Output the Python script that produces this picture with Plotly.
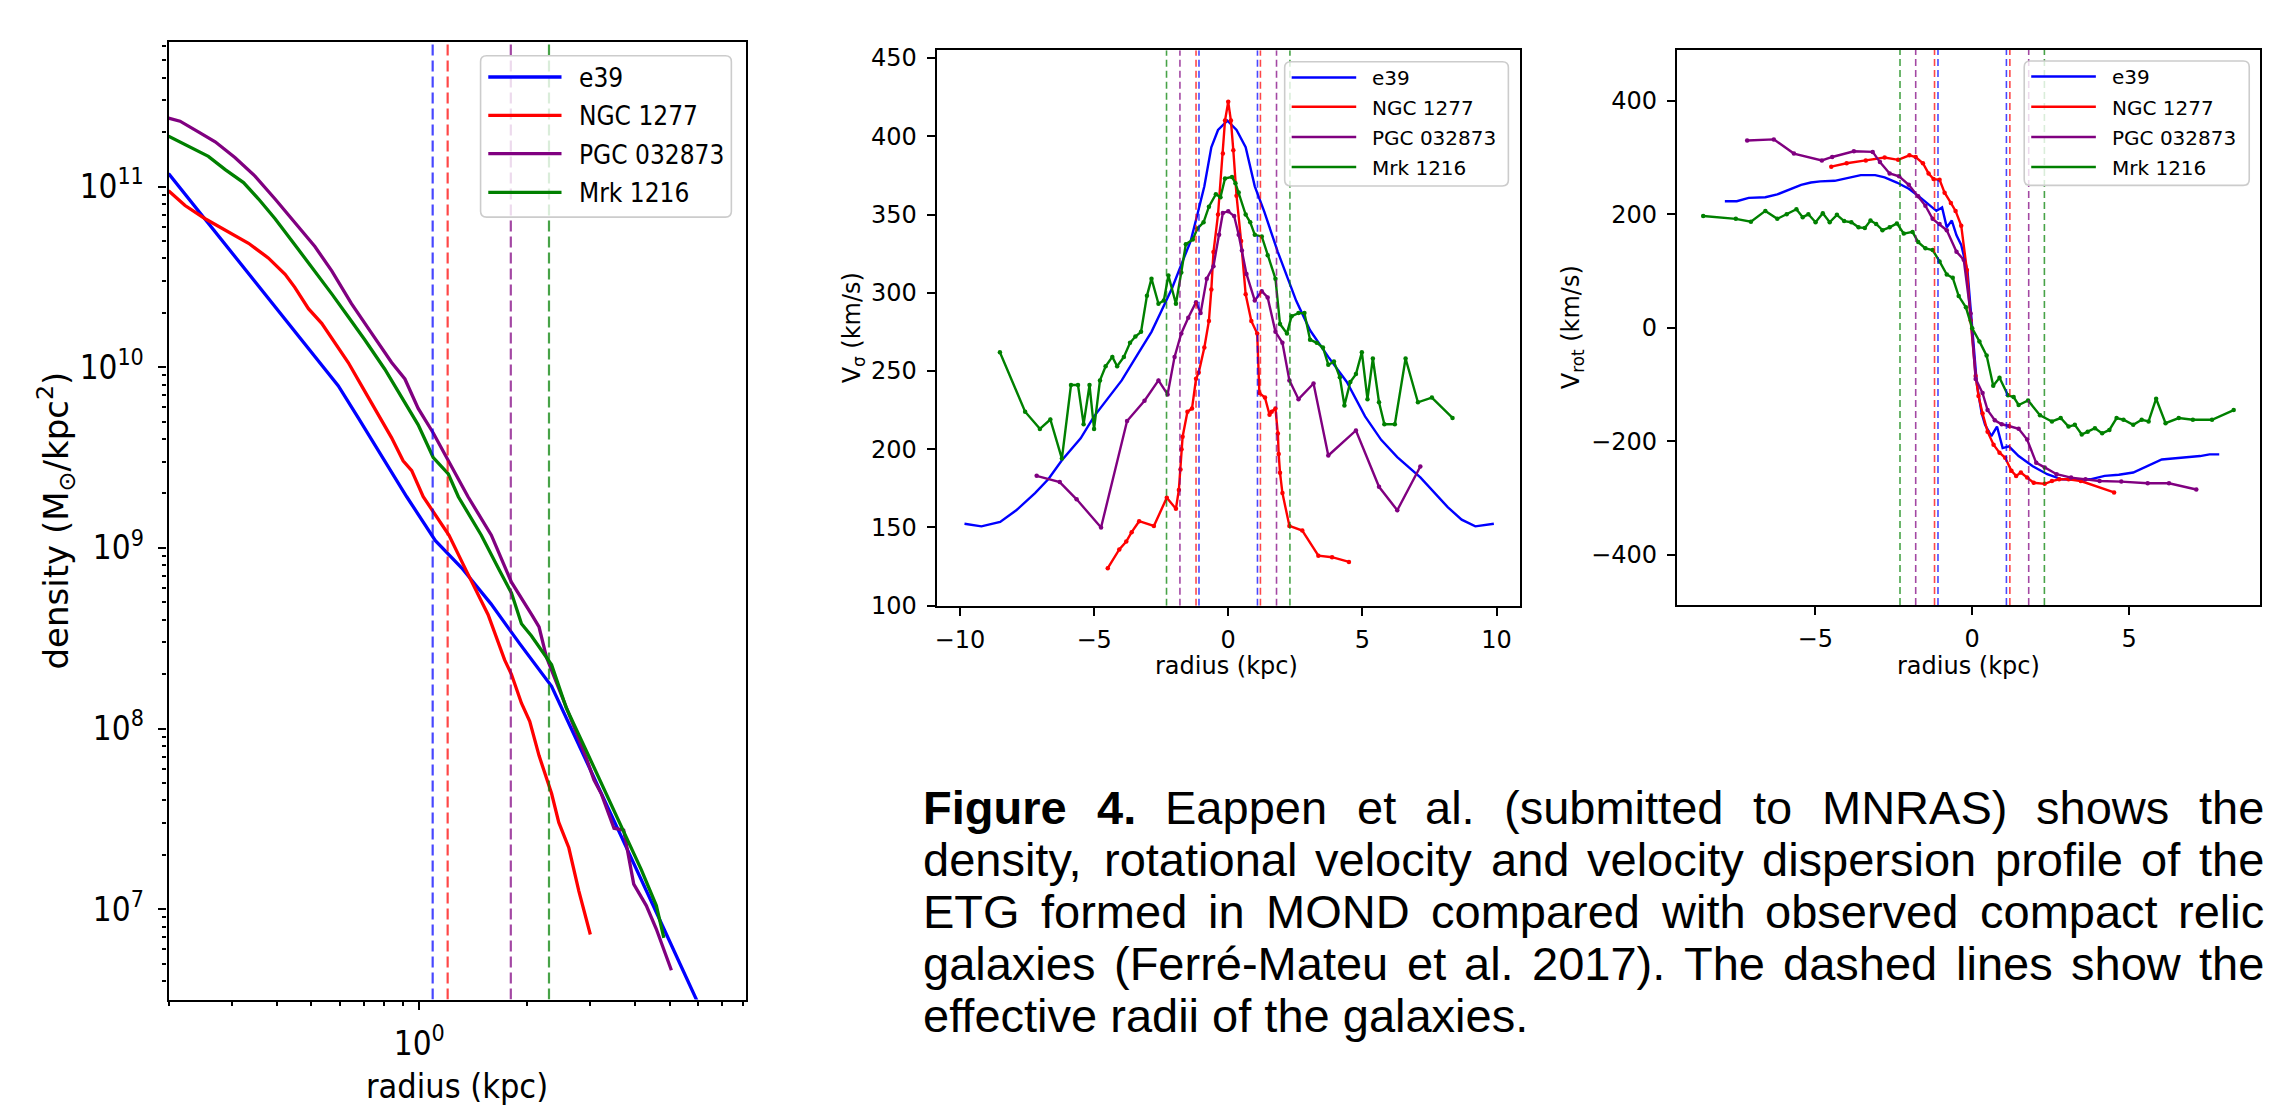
import numpy as np
import plotly.graph_objects as go

W, H = 2286, 1112

# ---------------- shared ----------------
names = ["e39", "NGC 1277", "PGC 032873", "Mrk 1216"]
line_colors = ["#0000ff", "#ff0000", "#800080", "#008000"]
dash_colors = ["rgba(0,0,255,0.72)", "rgba(255,0,0,0.72)", "rgba(128,0,128,0.72)", "rgba(0,128,0,0.72)"]
r_eff = [1.09, 1.2, 1.8, 2.3]   # effective radii (kpc)

# ---------------- panel 1 : surface density (log10 values) ----------------
dens_logr_e39 = [-0.699, -0.60, -0.50, -0.40, -0.30, -0.226, -0.17, -0.114, -0.035, 0.045, 0.118, 0.20, 0.28, 0.369, 0.45, 0.55, 0.65, 0.72, 0.775]
dens_logrho_e39 = [11.072, 10.827, 10.579, 10.331, 10.083, 9.898, 9.72, 9.54, 9.283, 9.04, 8.89, 8.69, 8.47, 8.234, 7.89, 7.46, 7.03, 6.73, 6.49]

dens_logr_ngc = [-0.699, -0.653, -0.597, -0.532, -0.476, -0.421, -0.374, -0.347, -0.309, -0.272, -0.235, -0.198, -0.161, -0.124, -0.077, -0.045, -0.021, 0.011, 0.05, 0.083, 0.132, 0.164, 0.192, 0.238, 0.257, 0.285, 0.308, 0.334, 0.369, 0.389, 0.417, 0.445, 0.477]
dens_logrho_ngc = [10.977, 10.895, 10.822, 10.750, 10.686, 10.605, 10.514, 10.442, 10.324, 10.243, 10.134, 10.026, 9.898, 9.772, 9.609, 9.482, 9.428, 9.283, 9.17, 9.07, 8.87, 8.74, 8.63, 8.38, 8.30, 8.14, 8.04, 7.85, 7.64, 7.48, 7.34, 7.10, 6.86]

dens_logr_pgc = [-0.699, -0.667, -0.616, -0.569, -0.514, -0.458, -0.402, -0.347, -0.291, -0.244, -0.189, -0.133, -0.077, -0.040, -0.003, 0.039, 0.081, 0.109, 0.136, 0.201, 0.257, 0.313, 0.334, 0.355, 0.410, 0.466, 0.487, 0.508, 0.543, 0.570, 0.598, 0.633, 0.661, 0.703]
dens_logrho_pgc = [11.379, 11.362, 11.303, 11.248, 11.161, 11.058, 10.931, 10.804, 10.668, 10.533, 10.352, 10.189, 10.026, 9.935, 9.772, 9.636, 9.482, 9.373, 9.283, 9.07, 8.81, 8.632, 8.562, 8.393, 8.114, 7.836, 7.716, 7.637, 7.448, 7.438, 7.139, 7.02, 6.89, 6.662]

dens_logr_mrk = [-0.699, -0.644, -0.588, -0.541, -0.490, -0.448, -0.402, -0.347, -0.291, -0.244, -0.198, -0.152, -0.096, -0.040, -0.003, 0.039, 0.081, 0.109, 0.173, 0.222, 0.257, 0.285, 0.313, 0.369, 0.410, 0.466, 0.522, 0.570, 0.619, 0.661, 0.682]
dens_logrho_mrk = [11.279, 11.221, 11.167, 11.094, 11.022, 10.931, 10.822, 10.678, 10.533, 10.406, 10.279, 10.152, 9.989, 9.808, 9.681, 9.50, 9.409, 9.283, 9.07, 8.881, 8.751, 8.58, 8.512, 8.353, 8.114, 7.876, 7.637, 7.438, 7.219, 7.02, 6.841]

dens_x_logrange = [-0.699, 0.912]
dens_y_logrange = [6.5, 11.8]
dens_x_ticks = [1]
dens_x_ticktext = ["10<sup>0</sup>"]
dens_x_minor = [0.2, 0.3, 0.4, 0.5, 0.6, 0.7, 0.8, 0.9, 2, 3, 4, 5, 6, 7, 8]
dens_y_ticks = [1e7, 1e8, 1e9, 1e10, 1e11]
dens_y_ticktext = ["10<sup>7</sup>", "10<sup>8</sup>", "10<sup>9</sup>", "10<sup>10</sup>", "10<sup>11</sup>"]
dens_y_minor = [m * 10.0 ** e for e in range(6, 12) for m in range(2, 10)]

# ---------------- panel 2 : velocity dispersion ----------------
sig_x_e39 = [-9.83, -9.2, -8.5, -7.9, -7.2, -6.7, -6.2, -5.5, -5.0, -4.5, -3.97, -3.4, -2.86, -2.5, -2.09, -1.75, -1.40, -1.15, -0.89, -0.63, -0.38, -0.03, 0.31, 0.65, 0.99, 1.34, 1.85, 2.53, 3.05, 3.73, 4.42, 5.10, 5.7, 6.3, 7.16, 8.18, 8.7, 9.21, 9.9]
sig_v_e39 = [152.4, 150.7, 153.5, 161, 172, 181, 193, 207, 221, 232, 244, 260, 275, 288, 303, 318, 333, 350, 368, 393, 404, 410, 404, 393, 368, 352, 326, 295, 276, 259, 243, 221, 206, 195, 182, 163, 155, 150.7, 152.4]

sig_x_ngc = [-4.49, -4.06, -3.8, -3.6, -3.32, -2.77, -2.29, -1.95, -1.84, -1.78, -1.74, -1.7, -1.52, -1.35, -1.2, -1.1, -0.89, -0.72, -0.63, -0.55, -0.38, -0.2, -0.12, 0.0, 0.1, 0.19, 0.31, 0.48, 0.65, 0.86, 1.08, 1.16, 1.37, 1.54, 1.62, 1.76, 1.85, 1.88, 1.93, 2.02, 2.28, 2.76, 3.36, 3.87, 4.5]
sig_v_ngc = [124, 136, 141, 147, 154, 151, 169, 162, 174, 187, 200, 208, 224, 226, 245, 249, 265, 282, 302, 326, 350, 389, 410, 422, 410, 391, 362, 333, 299, 282, 274, 236, 233, 222, 224, 226, 210, 197, 185, 172, 151, 148, 132, 131, 128]

sig_x_pgc = [-7.14, -6.28, -5.65, -4.74, -3.77, -3.12, -2.6, -2.26, -2.0, -1.75, -1.49, -1.2, -1.03, -0.8, -0.55, -0.34, -0.2, 0.0, 0.22, 0.39, 0.51, 0.68, 0.99, 1.25, 1.47, 1.76, 2.02, 2.28, 2.62, 3.18, 3.73, 4.76, 5.62, 6.3, 7.16]
sig_v_pgc = [183, 179, 168, 150, 218, 231, 244, 235, 259, 274, 284, 294, 287, 309, 317, 337, 351, 352, 349, 337, 327, 312, 295, 301, 297, 275, 268, 244, 232, 242, 196, 212, 176, 161, 189]

sig_x_mrk = [-8.51, -7.57, -7.02, -6.63, -6.2, -5.86, -5.6, -5.39, -5.17, -5.0, -4.78, -4.57, -4.32, -4.14, -3.89, -3.66, -3.46, -3.25, -3.03, -2.86, -2.6, -2.4, -2.23, -1.95, -1.75, -1.58, -1.32, -1.15, -0.92, -0.72, -0.46, -0.29, -0.12, 0.14, 0.27, 0.39, 0.65, 0.82, 0.99, 1.25, 1.47, 1.76, 1.93, 2.19, 2.36, 2.62, 2.84, 3.05, 3.3, 3.53, 3.73, 3.94, 4.16, 4.33, 4.55, 4.76, 4.98, 5.19, 5.39, 5.62, 5.82, 6.21, 6.61, 7.07, 7.59, 8.36]
sig_v_mrk = [262, 224, 213, 219, 194, 241, 241, 216, 241, 213, 244, 253, 259, 253, 259, 268, 272, 275, 298, 309, 293, 295, 311, 293, 313, 331, 334, 341, 345, 355, 363, 361, 373, 374, 370, 364, 350, 345, 337, 336, 324, 309, 280, 274, 285, 287, 287, 270, 268, 265, 254, 256, 246, 228, 243, 248, 262, 232, 258, 230, 216, 216, 258, 230, 233, 220]

sig_x_range = [-10.87, 10.87]
sig_y_range = [100, 455]
sig_x_ticks = [-10, -5, 0, 5, 10]
sig_x_ticktext = ["\u221210", "\u22125", "0", "5", "10"]
sig_y_ticks = [100, 150, 200, 250, 300, 350, 400, 450]

# ---------------- panel 3 : rotation velocity ----------------
rot_x_e39 = [-7.88, -7.5, -7.12, -6.59, -6.21, -5.83, -5.45, -5.14, -4.84, -4.38, -4.0, -3.55, -3.09, -2.79, -2.4, -2.02, -1.64, -1.39, -1.14, -0.96, -0.81, -0.65, -0.5, -0.35, -0.15, 0.0, 0.15, 0.3, 0.41, 0.61, 0.79, 0.97, 1.17, 1.48, 1.93, 2.39, 2.85, 3.30, 3.76, 4.22, 4.67, 5.13, 5.59, 6.04, 6.65, 7.26, 7.56, 7.87]
rot_v_e39 = [223, 223, 229, 230, 235, 243, 252, 256, 258, 259, 264, 269, 269, 265, 256, 245, 229, 217, 206, 212, 177, 189, 163, 146, 100, 0, -100, -150, -171, -191, -174, -212, -209, -226, -244, -258, -267, -268, -267, -261, -259, -255, -244, -232, -229, -226, -223, -223]

rot_x_ngc = [-4.49, -4.0, -3.39, -2.79, -2.36, -2.0, -1.80, -1.57, -1.39, -1.23, -1.04, -0.88, -0.68, -0.53, -0.35, -0.17, -0.05, 0.11, 0.2, 0.33, 0.49, 0.68, 0.87, 1.05, 1.25, 1.40, 1.55, 1.75, 1.96, 2.31, 2.54, 2.77, 3.07, 3.46, 4.52]
rot_v_ngc = [284, 290, 295, 300, 296, 304, 301, 290, 272, 262, 261, 238, 220, 206, 180, 102, 13, -85, -120, -151, -183, -206, -220, -229, -252, -261, -255, -264, -273, -275, -270, -267, -267, -270, -290]

rot_x_pgc = [-7.17, -6.32, -5.68, -4.79, -4.46, -3.77, -3.17, -2.94, -2.63, -2.33, -2.02, -1.72, -1.49, -1.26, -1.04, -0.81, -0.5, -0.27, -0.05, 0.11, 0.33, 0.49, 0.72, 0.94, 1.17, 1.48, 1.75, 2.04, 2.31, 2.69, 3.15, 3.61, 4.06, 4.75, 5.59, 6.27, 7.14]
rot_v_pgc = [330, 332, 307, 295, 301, 311, 310, 292, 272, 267, 252, 232, 215, 192, 183, 172, 134, 120, 25, -90, -115, -145, -163, -170, -173, -178, -197, -238, -246, -258, -264, -267, -270, -271, -274, -274, -285]

rot_x_mrk = [-8.57, -7.53, -7.05, -6.59, -6.21, -5.91, -5.6, -5.40, -5.22, -4.99, -4.76, -4.54, -4.31, -4.08, -3.85, -3.62, -3.42, -3.24, -3.06, -2.86, -2.63, -2.40, -2.18, -1.9, -1.72, -1.49, -1.26, -1.04, -0.81, -0.62, -0.43, -0.2, 0.0, 0.23, 0.46, 0.67, 0.87, 1.14, 1.32, 1.48, 1.78, 2.16, 2.54, 2.82, 3.07, 3.27, 3.49, 3.68, 3.91, 4.14, 4.37, 4.60, 4.82, 5.13, 5.40, 5.62, 5.86, 6.16, 6.58, 7.03, 7.64, 8.33]
rot_v_mrk = [197, 192, 187, 206, 192, 200, 209, 195, 200, 186, 202, 186, 199, 188, 186, 177, 176, 189, 183, 172, 177, 184, 166, 169, 151, 140, 137, 117, 94, 88, 56, 36, -1, -24, -49, -102, -88, -119, -122, -136, -128, -154, -165, -159, -174, -171, -188, -183, -177, -186, -180, -159, -162, -171, -162, -165, -125, -168, -159, -162, -162, -145]

rot_x_range = [-9.41, 9.16]
rot_y_range = [-488.5, 490.4]
rot_x_ticks = [-5, 0, 5]
rot_x_ticktext = ["\u22125", "0", "5"]
rot_y_ticks = [-400, -200, 0, 200, 400]
rot_y_ticktext = ["\u2212400", "\u2212200", "0", "200", "400"]

caption_lines = [
    [("Figure", True), ("4.", True), ("Eappen", False), ("et", False), ("al.", False), ("(submitted", False),
     ("to", False), ("MNRAS)", False), ("shows", False), ("the", False)],
    [(w, False) for w in "density, rotational velocity and velocity dispersion profile of the".split()],
    [(w, False) for w in "ETG formed in MOND compared with observed compact relic".split()],
    [(w, False) for w in "galaxies (Ferré-Mateu et al. 2017). The dashed lines show the".split()],
    [("effective radii of the galaxies.", False)],
]

# ---------------- helpers (layout only) ----------------
def px(x):
    return x / W

def py(y):
    return (H - y) / H

FONT_MAIN = "DejaVu Sans"
FONT_COND = "DejaVu Sans Condensed, DejaVu Sans"
FONT_CAP = "Liberation Sans, Arial, sans-serif"

fig = go.Figure()

# panel 1 traces
dens_sets = [(dens_logr_e39, dens_logrho_e39), (dens_logr_ngc, dens_logrho_ngc),
             (dens_logr_pgc, dens_logrho_pgc), (dens_logr_mrk, dens_logrho_mrk)]
for (lr, lrho), col, nm in zip(dens_sets, line_colors, names):
    fig.add_trace(go.Scatter(x=10 ** np.array(lr), y=10 ** np.array(lrho), mode="lines", name=nm,
                             line=dict(color=col, width=3.3), xaxis="x", yaxis="y",
                             showlegend=False, hoverinfo="skip"))
for re_, dc in zip(r_eff, dash_colors):
    fig.add_trace(go.Scatter(x=[re_, re_], y=[10 ** dens_y_logrange[0], 10 ** dens_y_logrange[1]],
                             mode="lines", line=dict(color=dc, width=2.2, dash="11px,5px"),
                             xaxis="x", yaxis="y", showlegend=False, hoverinfo="skip"))

# panel 2 traces
sig_sets = [(sig_x_e39, sig_v_e39), (sig_x_ngc, sig_v_ngc), (sig_x_pgc, sig_v_pgc), (sig_x_mrk, sig_v_mrk)]
for i, ((xs, vs), col, nm) in enumerate(zip(sig_sets, line_colors, names)):
    fig.add_trace(go.Scatter(x=xs, y=vs, mode="lines" if i == 0 else "lines+markers", name=nm,
                             line=dict(color=col, width=2.4), marker=dict(size=4.5, color=col),
                             xaxis="x2", yaxis="y2", showlegend=False, hoverinfo="skip"))
for re_, dc in zip(r_eff, dash_colors):
    for s in (-1, 1):
        fig.add_trace(go.Scatter(x=[s * re_, s * re_], y=sig_y_range, mode="lines",
                                 line=dict(color=dc, width=1.6, dash="7px,4px"),
                                 xaxis="x2", yaxis="y2", showlegend=False, hoverinfo="skip"))

# panel 3 traces
rot_sets = [(rot_x_e39, rot_v_e39), (rot_x_ngc, rot_v_ngc), (rot_x_pgc, rot_v_pgc), (rot_x_mrk, rot_v_mrk)]
for i, ((xs, vs), col, nm) in enumerate(zip(rot_sets, line_colors, names)):
    fig.add_trace(go.Scatter(x=xs, y=vs, mode="lines" if i == 0 else "lines+markers", name=nm,
                             line=dict(color=col, width=2.4), marker=dict(size=4.5, color=col),
                             xaxis="x3", yaxis="y3", showlegend=False, hoverinfo="skip"))
for re_, dc in zip(r_eff, dash_colors):
    for s in (-1, 1):
        fig.add_trace(go.Scatter(x=[s * re_, s * re_], y=rot_y_range, mode="lines",
                                 line=dict(color=dc, width=1.6, dash="7px,4px"),
                                 xaxis="x3", yaxis="y3", showlegend=False, hoverinfo="skip"))

# ---------------- axes ----------------
base = dict(showline=True, linecolor="black", mirror=True, ticks="outside", tickcolor="black",
            showgrid=False, zeroline=False, tickmode="array")

ax_left_x = dict(base, domain=[px(166.7), px(745)], anchor="y", type="log", range=dens_x_logrange,
                 tickvals=dens_x_ticks, ticktext=dens_x_ticktext, ticklen=8, tickwidth=2, linewidth=2.2,
                 tickfont=dict(family=FONT_COND, size=33, color="black"), ticklabelstandoff=6,
                 minor=dict(tickmode="array", tickvals=dens_x_minor, ticks="outside", ticklen=4.5,
                            tickwidth=1.6, tickcolor="black", showgrid=False))
ax_left_y = dict(base, domain=[py(1011.7), py(36.7)], anchor="x", type="log", range=dens_y_logrange,
                 tickvals=dens_y_ticks, ticktext=dens_y_ticktext, ticklen=8, tickwidth=2, linewidth=2.2,
                 tickfont=dict(family=FONT_COND, size=33, color="black"), ticklabelstandoff=8,
                 minor=dict(tickmode="array", tickvals=dens_y_minor, ticks="outside", ticklen=4.5,
                            tickwidth=1.6, tickcolor="black", showgrid=False))

small_font = dict(family=FONT_MAIN, size=24, color="black")
ax_mid_x = dict(base, domain=[px(935.4), px(1519.2)], anchor="y2", range=sig_x_range,
                tickvals=sig_x_ticks, ticktext=sig_x_ticktext, ticklen=8, tickwidth=2, linewidth=2,
                tickfont=small_font, ticklabelstandoff=3)
ax_mid_y = dict(base, domain=[py(610.7), py(45)], anchor="x2", range=sig_y_range,
                tickvals=sig_y_ticks, ticktext=[str(v) for v in sig_y_ticks], ticklen=8, tickwidth=2,
                linewidth=2, tickfont=small_font, ticklabelstandoff=5)
ax_rot_x = dict(base, domain=[px(1676.3), px(2259.7)], anchor="y3", range=rot_x_range,
                tickvals=rot_x_ticks, ticktext=rot_x_ticktext, ticklen=8, tickwidth=2, linewidth=2,
                tickfont=small_font, ticklabelstandoff=3)
ax_rot_y = dict(base, domain=[py(610), py(44.3)], anchor="x3", range=rot_y_range,
                tickvals=rot_y_ticks, ticktext=rot_y_ticktext, ticklen=8, tickwidth=2, linewidth=2,
                tickfont=small_font, ticklabelstandoff=5)

annotations = []
shapes = []

def ann(text, x, y, size, family, angle=0, xanchor="center", yanchor="middle"):
    annotations.append(dict(text=text, x=px(x), y=py(y), xref="paper", yref="paper", showarrow=False,
                            xanchor=xanchor, yanchor=yanchor, textangle=angle,
                            font=dict(family=family, size=size, color="black")))

# axis titles
ann("radius (kpc)", 455, 1100, 34, FONT_COND)
ann("density (M<sub>\u2299</sub>/kpc<sup>2</sup>)", 54, 524, 34, FONT_MAIN, angle=-90)
ann("radius (kpc)", 1226, 672, 24, FONT_MAIN)
ann("V<sub>\u03c3</sub> (km/s)", 852, 328, 24, FONT_MAIN, angle=-90)
ann("radius (kpc)", 1968, 672, 24, FONT_MAIN)
ann("V<sub>rot</sub> (km/s)", 1572, 327.5, 24, FONT_MAIN, angle=-90)

# legends (drawn as boxes + sample lines + labels)
def rrect_path(x0, y0, x1, y1, r):
    pts = [("M", x0 + r, y0), ("L", x1 - r, y0), ("Q", x1, y0, x1, y0 + r), ("L", x1, y1 - r),
           ("Q", x1, y1, x1 - r, y1), ("L", x0 + r, y1), ("Q", x0, y1, x0, y1 - r), ("L", x0, y0 + r),
           ("Q", x0, y0, x0 + r, y0)]
    out = []
    for p in pts:
        cmd = p[0]
        coords = p[1:]
        seg = []
        for j in range(0, len(coords), 2):
            seg.append(f"{px(coords[j]):.6f},{py(coords[j + 1]):.6f}")
        out.append(cmd + " " + " ".join(seg))
    return " ".join(out) + " Z"

def legend(box, rows, sx0, sx1, tx, lw, fsize, family):
    x0, y0, x1, y1 = box
    shapes.append(dict(type="path", path=rrect_path(x0, y0, x1, y1, 6), xref="paper", yref="paper",
                       fillcolor="rgba(255,255,255,0.8)", line=dict(color="#cccccc", width=1.6), layer="above"))
    for ry, col, nm in zip(rows, line_colors, names):
        shapes.append(dict(type="line", xref="paper", yref="paper", x0=px(sx0), x1=px(sx1), y0=py(ry), y1=py(ry),
                           line=dict(color=col, width=lw), layer="above"))
        ann(nm, tx - 2, ry + 1, fsize, family, xanchor="left")

legend((479, 50.7, 730, 215), [72.3, 111.3, 150.3, 189.7], 486.7, 560, 577.3, 3.3, 26, FONT_COND)
legend((1283.8, 56.7, 1507.7, 183.3), [72.7, 102.7, 133.3, 164], 1290.8, 1355.4, 1371.5, 2.5, 20, FONT_MAIN)
legend((2024, 56, 2249.2, 182.7), [71.7, 102.7, 133.3, 164], 2031, 2095.7, 2111.5, 2.5, 20, FONT_MAIN)

# caption (justified, Arial/Liberation metrics)
AR = {' ': 278, 'a': 556, 'b': 556, 'c': 500, 'd': 556, 'e': 556, 'f': 278, 'g': 556, 'h': 556, 'i': 222,
      'j': 222, 'k': 500, 'l': 222, 'm': 833, 'n': 556, 'o': 556, 'p': 556, 'q': 556, 'r': 333, 's': 500,
      't': 278, 'u': 556, 'v': 500, 'w': 722, 'x': 500, 'y': 500, 'z': 500, 'A': 667, 'B': 667, 'C': 722,
      'D': 722, 'E': 667, 'F': 611, 'G': 778, 'H': 722, 'I': 278, 'M': 833, 'N': 722, 'O': 778, 'R': 722,
      'S': 667, 'T': 611, '.': 278, ',': 278, '(': 333, ')': 333, '-': 333, 'é': 556}
ARB = {'F': 611, 'i': 278, 'g': 611, 'u': 611, 'r': 389, 'e': 556, '4': 556, '.': 278}
CAP_SIZE = 47
cap_left, cap_right = 922.3, 2264.3
cap_baselines = [829, 882, 935, 988, 1041]

def wwidth(w, bold):
    tbl = ARB if bold else AR
    return sum(tbl.get(c, 556) for c in w) / 1000.0 * CAP_SIZE

for li, (words, base_y) in enumerate(zip(caption_lines, cap_baselines)):
    cy = base_y - 0.3465 * CAP_SIZE + 3
    widths = [wwidth(w, b) for w, b in words]
    if len(words) > 1 and li < len(caption_lines) - 1:
        gap = (cap_right - cap_left - sum(widths)) / (len(words) - 1)
    else:
        gap = 0.278 * CAP_SIZE
    xcur = cap_left
    for (w, b), ww in zip(words, widths):
        txt = f"<b>{w}</b>" if b else w
        ann(txt, xcur - 2, cy, CAP_SIZE, FONT_CAP, xanchor="left")
        xcur += ww + gap

fig.update_layout(
    width=W, height=H, margin=dict(l=0, r=0, t=0, b=0),
    paper_bgcolor="white", plot_bgcolor="white", showlegend=False,
    xaxis=ax_left_x, yaxis=ax_left_y, xaxis2=ax_mid_x, yaxis2=ax_mid_y,
    xaxis3=ax_rot_x, yaxis3=ax_rot_y,
    annotations=annotations, shapes=shapes,
    font=dict(family=FONT_MAIN, color="black"),
)

fig.write_html("out.html")
